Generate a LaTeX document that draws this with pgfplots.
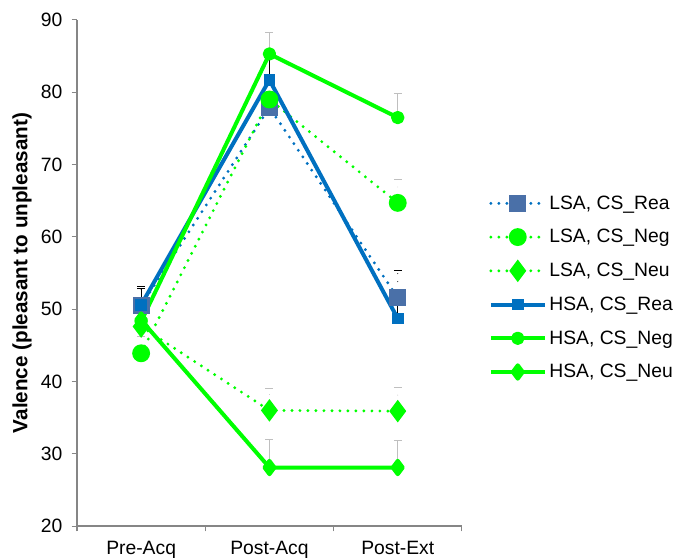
\documentclass[border=0pt]{standalone}
\usepackage{pgfplots}
\pgfplotsset{compat=1.18}
\usepackage{fontspec}
\setmainfont{Liberation Sans}
\definecolor{cblue}{HTML}{0070C0}
\definecolor{cslate}{HTML}{4A70A8}
\definecolor{cgreen}{HTML}{00FF00}
\definecolor{axgray}{HTML}{868686}
\begin{document}
\begin{tikzpicture}
\begin{axis}[
  scale only axis,
  width=289pt, height=380pt,
  xmin=-0.5, xmax=2.5, ymin=20, ymax=90,
  ytick={20,30,...,90},
  xtick={-0.5,0.5,1.5,2.5},
  xticklabels={},
  extra x ticks={0,1,2},
  extra x tick labels={Pre-Acq,Post-Acq,Post-Ext},
  extra x tick style={major tick length=0pt},
  major tick length=4pt,
  tick style={axgray, line width=0.8pt},
  tick align=outside,
  axis x line*=bottom, axis y line*=left,
  axis line style={axgray, line width=1.2pt},
  every outer x axis line/.append style={-},
  every outer y axis line/.append style={-},
  tick label style={font=\fontsize{14.5}{17}\selectfont, black},
  /pgf/number format/assume math mode=true,
  ylabel={\textbf{Valence (pleasant to unpleasant)}},
  ylabel style={font=\fontsize{15.5}{18}\selectfont, yshift=0pt},
  xticklabel style={yshift=-8pt, text depth=0pt},
  yticklabel style={xshift=-3.5pt},
  legend style={draw=none, fill=none, at={(1.059,0.664)}, anchor=north west,
    font=\fontsize{14.5}{17}\selectfont, row sep=9.7pt, cells={anchor=west}},
  legend image code/.code={
    \draw[mark repeat=2,mark phase=2] plot coordinates {(0cm,0cm)(0.71cm,0cm)(1.42cm,0cm)};
  },
  error bars/y dir=plus, error bars/y explicit,
  error bars/error bar style={line width=0.6pt},
  error bars/error mark options={rotate=90, mark size=3pt, line width=0.6pt},
]
% LSA CS_Rea
\addplot[cblue, line width=2.4pt, dash pattern=on 0pt off 6pt, line cap=round,
  mark=square*, mark size=6pt, mark options={solid, fill=cslate, draw=cslate, line width=0pt},
  error bars/error bar style={black, line width=0.8pt},
  error bars/error mark options={rotate=90, mark size=3pt, black, line width=0.8pt}]
  coordinates {(0,50.5) +- (0,2.6) (1,77.9) +- (0,3.5) (2,51.6) +- (0,3.7)};
\addlegendentry{LSA, CS\_Rea}
% LSA CS_Neg
\addplot[cgreen, line width=2.4pt, dash pattern=on 0pt off 6pt, line cap=round,
  mark=*, mark size=5.5pt, mark options={solid, fill=cgreen, draw=cgreen},
  error bars/error bar style={gray!50, line width=0.6pt},
  error bars/error mark options={rotate=90, mark size=3pt, gray!50}]
  coordinates {(0,43.9) +- (0,2.3) (1,79.0) +- (0,3.0) (2,64.7) +- (0,3.2)};
\addlegendentry{LSA, CS\_Neg}
% LSA CS_Neu
\addplot[cgreen, line width=2.4pt, dash pattern=on 0pt off 6pt, line cap=round,
  mark=diamond*, mark size=6.5pt, mark options={solid, fill=cgreen, draw=cgreen},
  error bars/error bar style={gray!50, line width=0.6pt},
  error bars/error mark options={rotate=90, mark size=3pt, gray!50}]
  coordinates {(0,47.6) +- (0,2.0) (1,36.0) +- (0,3.1) (2,35.9) +- (0,3.3)};
\addlegendentry{LSA, CS\_Neu}
% HSA CS_Rea
\addplot[cblue, line width=3pt, line join=round,
  mark=square*, mark size=4pt, mark options={solid, fill=cblue, draw=cblue, line width=0pt},
  error bars/error bar style={black, line width=0.8pt},
  error bars/error mark options={rotate=90, mark size=3pt, black, line width=0.8pt}]
  coordinates {(0,50.6) +- (0,2.3) (1,81.7) +- (0,3.5) (2,48.7) +- (0,3.9)};
\addlegendentry{HSA, CS\_Rea}
% HSA CS_Neg
\addplot[cgreen, line width=3pt, line join=round,
  mark=*, mark size=3.5pt, mark options={solid, fill=cgreen, draw=cgreen},
  error bars/error bar style={gray!50, line width=0.6pt},
  error bars/error mark options={rotate=90, mark size=3pt, gray!50}]
  coordinates {(0,48.3) +- (0,2.0) (1,85.3) +- (0,3.0) (2,76.5) +- (0,3.4)};
\addlegendentry{HSA, CS\_Neg}
% HSA CS_Neu
\addplot[cgreen, line width=3pt, line join=round,
  mark=diamond*, mark size=5pt, mark options={solid, fill=cgreen, draw=cgreen},
  error bars/error bar style={gray!50, line width=0.6pt},
  error bars/error mark options={rotate=90, mark size=3pt, gray!50}]
  coordinates {(0,48.5) +- (0,2.0) (1,28.1) +- (0,3.9) (2,28.1) +- (0,3.8)};
\addlegendentry{HSA, CS\_Neu}
\end{axis}
\pgfresetboundingbox
\path ([shift={(-57.8pt,-24.8pt)}]current axis.south west) rectangle ([shift={(163pt,15pt)}]current axis.north east);
\end{tikzpicture}
\end{document}
